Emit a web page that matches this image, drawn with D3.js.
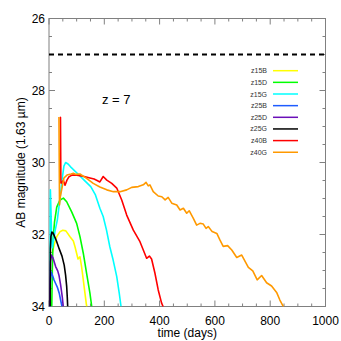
<!DOCTYPE html>
<html><head><meta charset="utf-8">
<script src="https://cdn.jsdelivr.net/npm/d3@7"></script>
<style>
html,body{margin:0;padding:0;background:#fff;}
svg{display:block;font-family:"Liberation Sans",Arial,sans-serif;}
</style></head>
<body><svg id="c" width="341" height="341"></svg>
<script>
// [time (days), AB magnitude]
const z15B = [[12,32.5],[20,32.25],[28,32.06],[40,31.92],[50,31.88],[61,31.9],[76,32.06],[88,32.18],[94,32.34],[105,32.68],[112,32.62],[118,32.9],[124,33.26],[130,33.63],[135.5,33.96],[137,34.0]];
const z15D = [[10,34.0],[12,33.0],[14.5,32.15],[20,31.65],[28,31.24],[40,31.04],[52,30.99],[64,31.09],[82,31.37],[100,31.69],[112,32.06],[124,32.52],[136,33.08],[148,33.63],[154.5,34.0]];
const z15G = [[4,34.0],[4.5,31.5],[5,30.76],[7,31.3],[10,32.2],[12,32.37],[16,32.2],[22,31.9],[30,31.6],[40,30.99],[47,30.49],[54,30.1],[60,30.0],[69,30.04],[78,30.12],[102,30.3],[127,30.49],[151,30.67],[168,30.9],[184,31.27],[196,31.5],[208,31.88],[220,32.34],[232,32.71],[245,33.17],[254,33.63],[260.5,34.0]];
const z25B = [[2.5,34.0],[4,33.5],[5.5,33.21],[8.3,33.04],[13.4,33.15],[18,33.26],[24,33.36],[30,33.46],[37,33.63],[42,33.82],[47,34.0]];
const z25D = [[3,34.0],[4,33.3],[5.4,32.76],[9,32.57],[14.5,32.65],[24,32.89],[31.5,33.01],[36,33.13],[42,33.4],[48,33.73],[51.5,34.0]];
const z25G = [[4,34.0],[5,32.4],[7,32.05],[10.5,31.93],[15.5,31.97],[27,32.18],[37,32.4],[47,32.6],[55,32.85],[60,33.13],[64,33.45],[66.2,33.76],[67.6,34.0]];
const z40B = [[39,28.74],[41.5,28.75],[43,30.57],[45.5,30.57],[52,30.5],[58,30.63],[65,30.49],[72,30.4],[83,30.35],[101,30.35],[127,30.39],[148,30.43],[163,30.46],[174,30.5],[184,30.54],[196,30.39],[209,30.49],[227,30.58],[245,30.71],[263,31.04],[281,31.46],[305,31.88],[329,32.2],[353,32.66],[363,32.6],[371,32.68],[383,33.07],[395,33.54],[407,33.9],[413,34.01]];
const z40G = [[34.5,28.74],[36,28.76],[38,31.18],[41,30.95],[48,30.67],[54,30.43],[65,30.35],[80,30.32],[88,30.3],[98,30.33],[112,30.32],[136,30.44],[160,30.58],[184,30.68],[209,30.76],[233,30.81],[257,30.81],[281,30.76],[299,30.69],[323,30.67],[341,30.62],[351,30.55],[359,30.65],[365,30.62],[377,30.81],[395,30.93],[408,30.95],[420,31.04],[431,30.97],[444,31.13],[462,31.18],[474,31.32],[486,31.27],[498,31.41],[507,31.34],[522,31.55],[534,31.74],[546,31.69],[558,31.71],[568,31.83],[576,31.78],[590,31.92],[607,31.97],[618,32.15],[630,32.33],[646,32.31],[661,32.43],[679,32.64],[697,32.57],[721,32.91],[737,33.01],[753,33.26],[769,33.14],[787,33.34],[805,33.43],[824,33.62],[835,33.82],[848,34.01]];

const seriesNames = ["z15B","z15D","z15G","z25B","z25D","z25G","z40B","z40G"];
const seriesData = [z15B,z15D,z15G,z25B,z25D,z25G,z40B,z40G];
const seriesColors = ["#ffff00","#00ff00","#00ffff","#1e5cff","#6a0fb8","#000000","#ff0000","#ff9900"];
const xTicks = [0,200,400,600,800,1000];
const yTicks = [26,28,30,32,34];
const refMag = 27;
const annotation = "z = 7";

const svg = d3.select("#c");
const x = d3.scaleLinear().domain([0,1000]).range([49,325.5]);
const y = d3.scaleLinear().domain([26,34]).range([18.5,306.5]);
const axisColor = "#808080";

// clip
svg.append("clipPath").attr("id","clip").append("rect")
  .attr("x",x(0)).attr("y",y(26)).attr("width",x(1000)-x(0)).attr("height",y(34)-y(26));

// frame
svg.append("rect").attr("x",x(0)).attr("y",y(26)).attr("width",x(1000)-x(0)).attr("height",y(34)-y(26))
  .attr("fill","none").attr("stroke",axisColor).attr("stroke-width",1);

// ticks (inward)
const xMinor = d3.range(0,1001,50);
const yMinor = d3.range(26,34.01,0.5);
const tg = svg.append("g").attr("stroke",axisColor).attr("stroke-width",1);
xMinor.forEach(v=>{
  const L = (v%200===0)?6:3;
  tg.append("line").attr("x1",x(v)).attr("x2",x(v)).attr("y1",y(34)).attr("y2",y(34)-L);
  tg.append("line").attr("x1",x(v)).attr("x2",x(v)).attr("y1",y(26)).attr("y2",y(26)+L);
});
yMinor.forEach(v=>{
  const L = (Math.abs(v%2)<1e-6)?6:3;
  tg.append("line").attr("y1",y(v)).attr("y2",y(v)).attr("x1",x(0)).attr("x2",x(0)+L);
  tg.append("line").attr("y1",y(v)).attr("y2",y(v)).attr("x1",x(1000)).attr("x2",x(1000)-L);
});

// tick labels
svg.append("g").selectAll("text").data(xTicks).join("text")
  .attr("x",d=>x(d)).attr("y",325).attr("text-anchor","middle")
  .attr("font-size",12).attr("fill","#000").text(d=>d);
svg.append("g").selectAll("text").data(yTicks).join("text")
  .attr("x",45).attr("y",d=>y(d)+4).attr("text-anchor","end")
  .attr("font-size",12).attr("fill","#000").text(d=>d);

// axis titles
svg.append("text").attr("x",(x(0)+x(1000))/2).attr("y",337).attr("text-anchor","middle")
  .attr("font-size",12).text("time (days)");
svg.append("text").attr("transform",`translate(25,${(y(26)+y(34))/2}) rotate(-90)`)
  .attr("text-anchor","middle").attr("font-size",12).text("AB magnitude (1.63 µm)");

// dashed reference line
svg.append("line").attr("x1",x(0)).attr("x2",x(1000)).attr("y1",y(refMag)).attr("y2",y(refMag))
  .attr("stroke","#000").attr("stroke-width",2).attr("stroke-dasharray","5,4");

// annotation
svg.append("text").attr("x",x(243)).attr("y",y(28.3)+3).attr("font-size",13).attr("text-anchor","middle").text(annotation);

// curves
const line = d3.line().x(d=>x(d[0])).y(d=>y(d[1]));
const cg = svg.append("g").attr("clip-path","url(#clip)");
seriesData.forEach((s,i)=>{
  cg.append("path").datum(s).attr("d",line).attr("fill","none")
    .attr("stroke",seriesColors[i]).attr("stroke-width",1.6).attr("stroke-linejoin","round");
});

// legend
const lg = svg.append("g");
seriesNames.forEach((n,i)=>{
  const yy = 70.7 + i*11.65;
  lg.append("text").attr("x",267).attr("y",yy+2.5).attr("text-anchor","end")
    .attr("font-size",7).attr("fill","#333").text(n);
  lg.append("line").attr("x1",273).attr("x2",298).attr("y1",yy).attr("y2",yy)
    .attr("stroke",seriesColors[i]).attr("stroke-width",1.5);
});
</script></body></html>
